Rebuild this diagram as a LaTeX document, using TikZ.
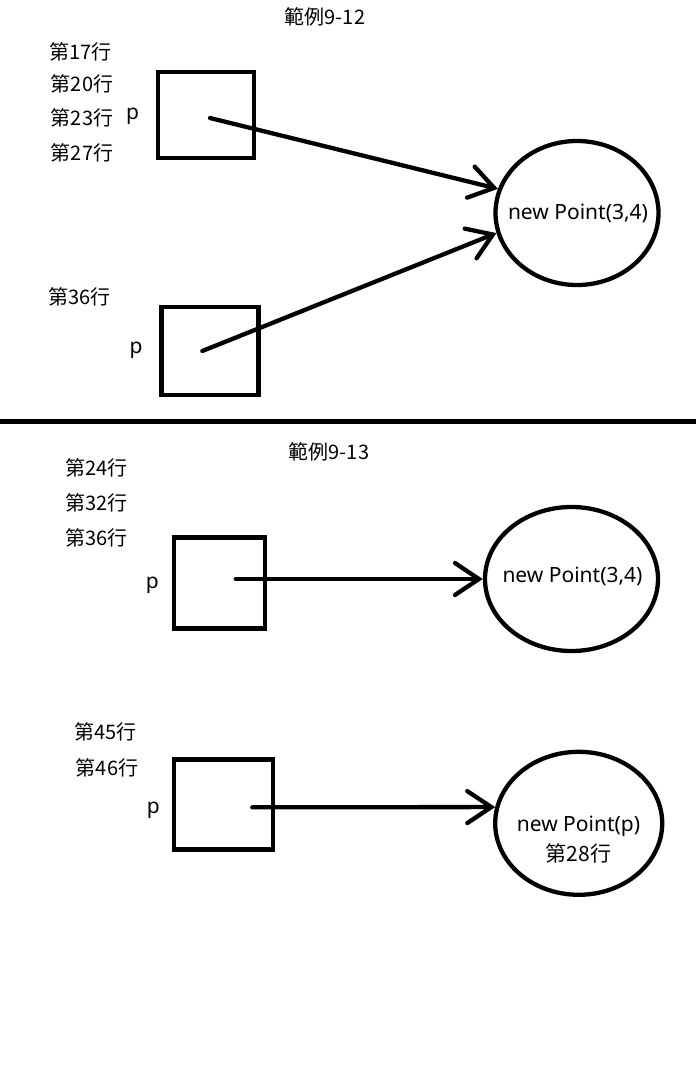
\documentclass[tikz,border=0pt]{standalone}
\usepackage{fontspec}
\setmainfont{Noto Sans}
\newfontfamily\cjk{Noto Sans CJK TC}
\usetikzlibrary{shapes.geometric,arrows.meta}
\begin{document}
\begin{tikzpicture}[x=1pt,y=-1pt,
  lbl/.style={font=\cjk\fontsize{20}{24}\selectfont, inner sep=0pt},
  var/.style={font=\fontsize{21}{25}\selectfont, inner sep=0pt},
  box/.style={draw, line width=4.3pt, inner sep=0pt},
  obj/.style={draw, ellipse, line width=4.3pt, inner sep=0pt},
  objtxt/.style={font=\fontsize{21}{30}\selectfont, inner sep=0pt, align=center},
  ref/.style={line width=4.3pt, line cap=round, -{Straight Barb[length=24pt,width=32pt,line cap=round]}}
]
\useasboundingbox (0,0) rectangle (696,1072);

% ---------- top: 範例9-12 ----------
\node[lbl] (t1) at (325,17) {範例9-12};
\node[lbl] (a17) at (80.7,51.7) {第17行};
\node[lbl] (a20) at (82,84) {第20行};
\node[lbl] (a23) at (82,118.3) {第23行};
\node[lbl] (a27) at (82,152.7) {第27行};
\node[var] (p1) at (132.7,116.7) {p};
\node[box, minimum width=96pt, minimum height=86.5pt] (b1) at (206,115) {};
\coordinate (s1) at (210,118);

\node[lbl] (a36) at (79.3,296.7) {第36行};
\node[var] (p2) at (136,350) {p};
\node[box, minimum width=97pt, minimum height=88pt] (b2) at (210,351) {};
\coordinate (s2) at (202.3,351);

\node[obj, minimum width=163pt, minimum height=144pt] (e1) at (577,213) {};
\node[objtxt] (e1t) at (578,213) {new Point(3,4)};

\draw[ref] (s1) -- (e1.163);
\draw[ref] (s2) -- (e1.194);

% separator
\coordinate (l1) at (0,421.7);
\coordinate (l2) at (696,421.7);
\draw[line width=4.5pt] (l1) -- (l2);

% ---------- bottom: 範例9-13 ----------
\node[lbl] (t2) at (329,451.7) {範例9-13};
\node[lbl] (c24) at (96.5,468.3) {第24行};
\node[lbl] (c32) at (96.5,502.7) {第32行};
\node[lbl] (c36) at (96.5,538.3) {第36行};
\node[var] (p3) at (152.3,585) {p};
\node[box, minimum width=91pt, minimum height=91pt] (b3) at (219.2,583) {};
\coordinate (s3) at (235.7,579);

\node[obj, minimum width=173pt, minimum height=144pt] (e2) at (571.5,579) {};
\node[objtxt] (e2t) at (572.5,576.7) {new Point(3,4)};
\draw[ref] (s3) -- (s3 -| e2.west);

\node[lbl] (c45) at (105.3,732.3) {第45行};
\node[lbl] (c46) at (107,768.3) {第46行};
\node[var] (p4) at (153.3,810) {p};
\node[box, minimum width=99pt, minimum height=90pt] (b4) at (223.3,804.5) {};
\coordinate (s4) at (252.3,807.3);

\node[obj, minimum width=167pt, minimum height=143pt] (e3) at (578.7,823.3) {};
\node[objtxt] (e3t) at (578.5,840) {new Point(p)\\{\cjk 第28行}};
\draw[ref] (s4) -- (e3.169);
\end{tikzpicture}
\end{document}
